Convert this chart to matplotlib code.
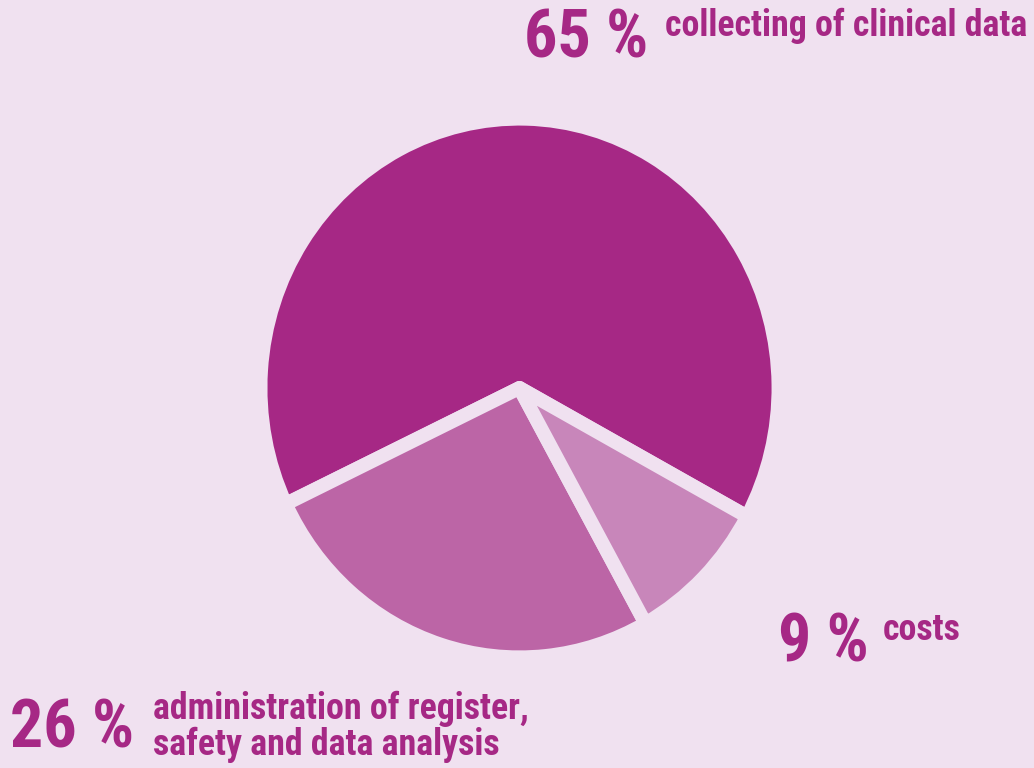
import matplotlib.pyplot as plt
from matplotlib import font_manager as fm

# data
shares = [65, 26, 9]
pct_labels = ["65 %", "26 %", "9 %"]
descriptions = ["collecting of clinical data",
                "administration of register,",
                "safety and data analysis",
                "costs"]
colors = ["#A62885", "#BC65A6", "#C886BA"]

bg = "#F0E1F0"
txt = "#A62885"

# look for an installed condensed bold face, otherwise plain DejaVu
cond = [f for f in fm.fontManager.ttflist
        if str(f.stretch) in ("condensed", "semi-condensed")
        and f.weight in (600, 700, "bold", "semibold") and f.style == "normal"]
pref = ["Roboto Condensed", "Noto Sans", "Open Sans", "DejaVu Sans", "Liberation Sans Narrow"]
cond.sort(key=lambda f: pref.index(f.name) if f.name in pref else 99)
if cond:
    fp_big = fm.FontProperties(fname=cond[0].fname, size=47.5)
    fp_small = fm.FontProperties(fname=cond[0].fname, size=25.8)
else:
    fp_big = fm.FontProperties(family="DejaVu Sans", weight="bold", size=38)
    fp_small = fm.FontProperties(family="DejaVu Sans", weight="bold", size=18)

W, H = 1034, 768
fig = plt.figure(figsize=(W / 100, H / 100), dpi=100, facecolor=bg)
ax = fig.add_axes([0, 0, 1, 1])

# pie is a little taller than wide in the reference -> stretch y a bit
yscale = 1.04
ax.pie(shares, colors=colors, startangle=-28.5, counterclock=True,
       center=(519.5, (H - 388) / yscale), radius=259, frame=True,
       wedgeprops=dict(edgecolor=bg, linewidth=10, joinstyle="round"))
ax.set_facecolor(bg)
ax.set_xlim(0, W)
ax.set_ylim(0, H / yscale)
ax.set_aspect("auto")
ax.axis("off")


def label(x, y, s, fp):
    # x, y in pixels from the top-left corner, y = baseline
    fig.text(x / W, 1 - y / H, s, fontproperties=fp, color=txt, va="baseline")


label(524, 57, pct_labels[0], fp_big)
label(665, 36, descriptions[0], fp_small)

label(10, 748, pct_labels[1], fp_big)
label(153, 719, descriptions[1], fp_small)
label(153, 755, descriptions[2], fp_small)

label(778, 662, pct_labels[2], fp_big)
label(883, 640, descriptions[3], fp_small)

fig.savefig("out.png", dpi=100, facecolor=bg)
